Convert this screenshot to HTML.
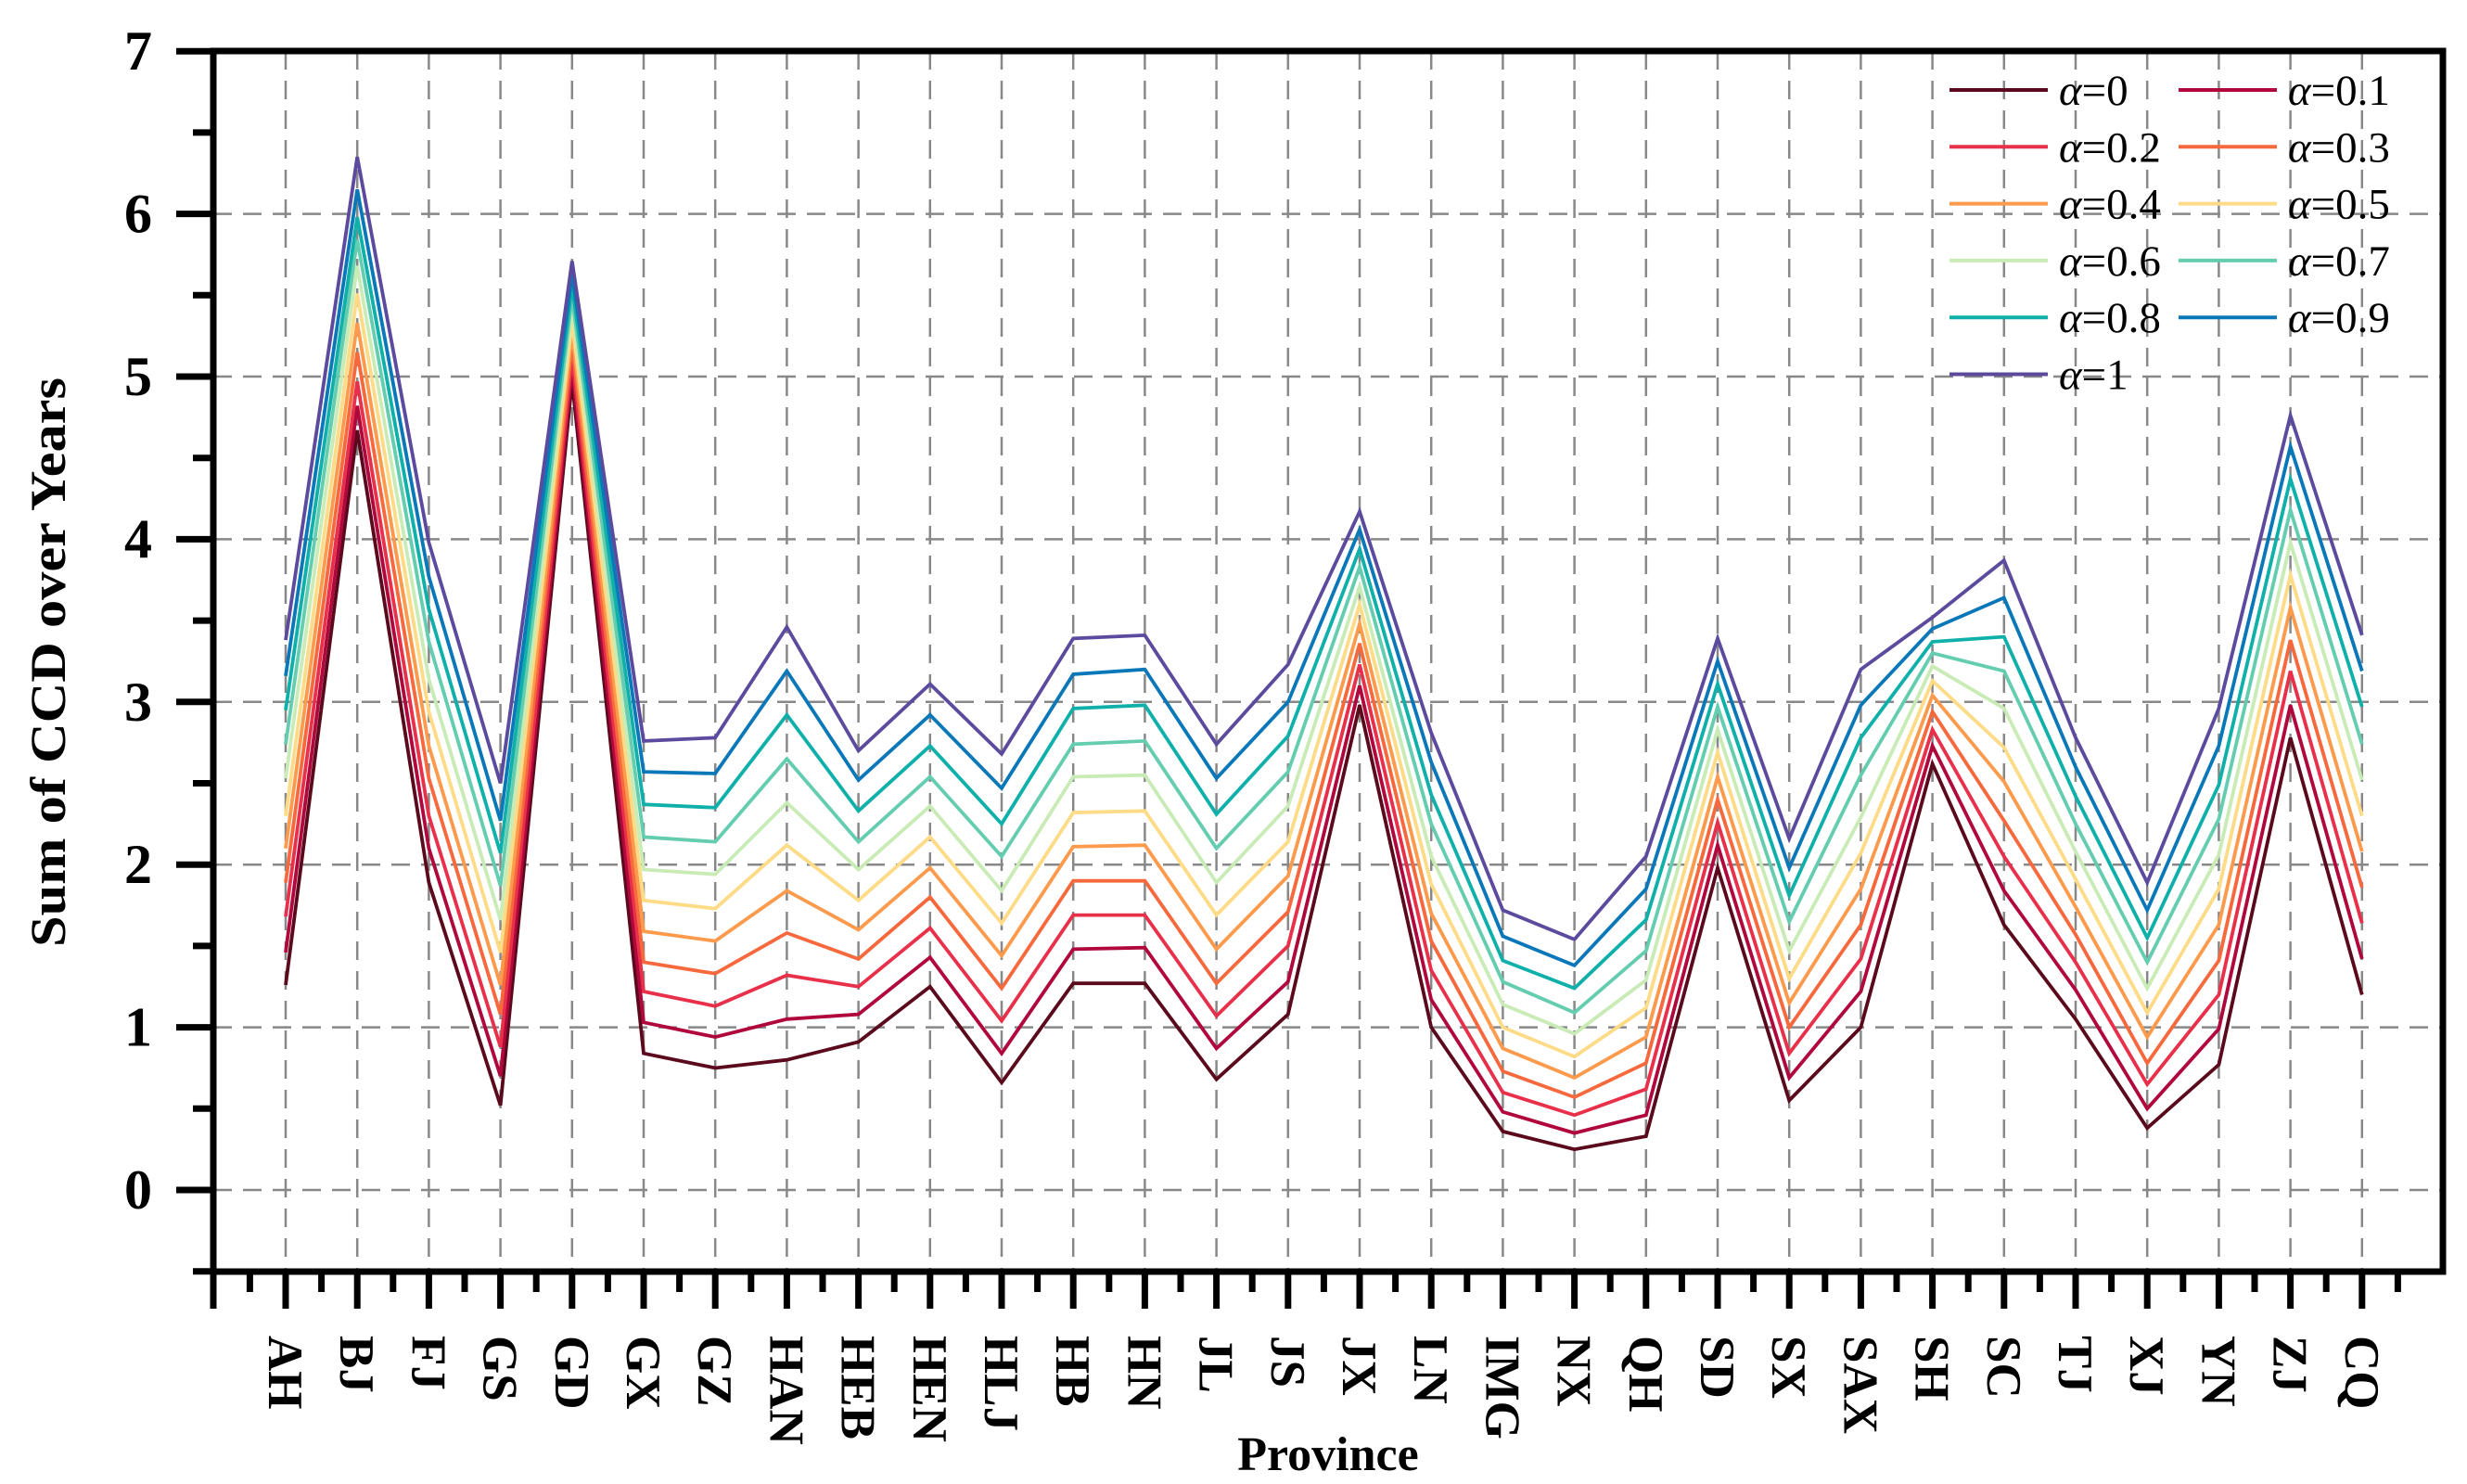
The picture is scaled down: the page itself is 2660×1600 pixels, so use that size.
<!DOCTYPE html>
<html><head><meta charset="utf-8"><style>
html,body{margin:0;padding:0;background:#fff;}
svg{display:block;font-family:"Liberation Serif",serif;}
</style></head><body>
<svg id="chart" width="2660" height="1600" viewBox="0 0 2660 1600" xmlns="http://www.w3.org/2000/svg">
<g id="grid"></g>
<g id="series"></g>
<g id="axes"></g>
<g id="legend"></g>
<text x="1432" y="1585" text-anchor="middle" font-weight="bold" font-size="52">Province</text>
<text transform="translate(70,714) rotate(-90)" text-anchor="middle" font-weight="bold" font-size="54" textLength="614" lengthAdjust="spacingAndGlyphs">Sum of CCD over Years</text>
</svg>
<script>
const categories = ["AH","BJ","FJ","GS","GD","GX","GZ","HAN","HEB","HEN","HLJ","HB","HN","JL","JS","JX","LN","IMG","NX","QH","SD","SX","SAX","SH","SC","TJ","XJ","YN","ZJ","CQ"];
const seriesLabels = ["0","0.1","0.2","0.3","0.4","0.5","0.6","0.7","0.8","0.9","1"];
const yTicks = [0,1,2,3,4,5,6,7];
const a00 = [1.26,4.67,1.89,0.52,4.97,0.84,0.75,0.80,0.91,1.25,0.66,1.27,1.27,0.68,1.08,2.98,1.00,0.36,0.25,0.33,1.98,0.55,1.00,2.62,1.63,1.05,0.38,0.77,2.78,1.20];
const a01 = [1.46,4.82,2.10,0.70,5.05,1.03,0.94,1.05,1.08,1.43,0.84,1.48,1.49,0.87,1.28,3.10,1.17,0.48,0.35,0.46,2.12,0.69,1.22,2.73,1.84,1.23,0.50,0.99,2.98,1.42];
const a02 = [1.68,4.97,2.30,0.88,5.12,1.22,1.13,1.32,1.25,1.61,1.04,1.69,1.69,1.07,1.50,3.23,1.35,0.60,0.46,0.62,2.26,0.84,1.42,2.83,2.05,1.40,0.65,1.20,3.19,1.64];
const a03 = [1.89,5.15,2.53,1.08,5.20,1.40,1.33,1.58,1.42,1.80,1.24,1.90,1.90,1.27,1.71,3.36,1.53,0.73,0.57,0.78,2.40,1.00,1.63,2.94,2.27,1.57,0.78,1.41,3.38,1.86];
const a04 = [2.10,5.33,2.73,1.26,5.27,1.59,1.53,1.84,1.60,1.98,1.44,2.11,2.12,1.48,1.93,3.48,1.70,0.87,0.69,0.94,2.54,1.15,1.85,3.04,2.51,1.74,0.94,1.63,3.58,2.08];
const a05 = [2.30,5.51,2.94,1.46,5.34,1.78,1.73,2.12,1.78,2.17,1.64,2.32,2.33,1.69,2.14,3.60,1.88,1.00,0.82,1.12,2.69,1.30,2.07,3.13,2.72,1.91,1.09,1.85,3.78,2.30];
const a06 = [2.53,5.68,3.14,1.66,5.42,1.97,1.94,2.38,1.97,2.36,1.84,2.54,2.55,1.89,2.36,3.71,2.05,1.14,0.96,1.29,2.83,1.47,2.29,3.22,2.96,2.08,1.24,2.06,3.98,2.52];
const a07 = [2.74,5.84,3.37,1.87,5.49,2.17,2.14,2.65,2.14,2.54,2.05,2.74,2.76,2.10,2.57,3.83,2.25,1.28,1.09,1.47,2.97,1.65,2.55,3.30,3.19,2.25,1.40,2.28,4.18,2.74];
const a08 = [2.95,5.98,3.57,2.07,5.56,2.37,2.35,2.92,2.33,2.73,2.25,2.96,2.98,2.31,2.79,3.94,2.43,1.41,1.24,1.66,3.11,1.81,2.78,3.37,3.40,2.42,1.55,2.49,4.37,2.97];
const a09 = [3.16,6.15,3.77,2.27,5.63,2.57,2.56,3.19,2.52,2.92,2.47,3.17,3.20,2.53,3.00,4.06,2.63,1.56,1.38,1.85,3.25,1.98,2.98,3.45,3.64,2.60,1.72,2.73,4.57,3.19];
const a10 = [3.38,6.35,3.98,2.50,5.71,2.76,2.78,3.46,2.70,3.11,2.68,3.39,3.41,2.74,3.23,4.17,2.81,1.72,1.54,2.05,3.39,2.16,3.20,3.52,3.87,2.78,1.89,2.96,4.76,3.41];
const allSeries = [a00,a01,a02,a03,a04,a05,a06,a07,a08,a09,a10];
const colors = ["#5a0a1c","#b0073c","#e8304a","#f7683c","#fd9a4c","#fedb86","#c9ebb6","#64cdb0","#0fb0aa","#0a78b8","#5b4a9e"];

const L=230,R=2634,T=55,B=1371;
const X0=308,DX=77.2;
function xs(i){return X0+i*DX;}
function ys(v){return 1283-v*175.4;}
const NS="http://www.w3.org/2000/svg";
function mk(tag,attrs,parent){const e=document.createElementNS(NS,tag);for(const k in attrs)e.setAttribute(k,attrs[k]);parent.appendChild(e);return e;}
const grid=document.getElementById('grid'),ser=document.getElementById('series'),axes=document.getElementById('axes'),leg=document.getElementById('legend');

yTicks.forEach(t=>{
  if(t===7)return;
  const g=mk('line',{x1:L,x2:R,y1:ys(t),y2:ys(t),stroke:'#888','stroke-width':2.5,'stroke-dasharray':'20 12'},grid);
  
  
});
categories.forEach((c,i)=>{
  const g=mk('line',{x1:xs(i),x2:xs(i),y1:T,y2:B,stroke:'#888','stroke-width':2.5,'stroke-dasharray':'20 12'},grid);
  
  
});

allSeries.forEach((s,k)=>{
  const pts=s.map((v,i)=>xs(i).toFixed(1)+','+ys(v).toFixed(1)).join(' ');
  const p=mk('polyline',{points:pts,fill:'none',stroke:colors[k],'stroke-width':3.8,'stroke-linejoin':'miter'},ser);
  
  
});

const fr=mk('rect',{x:L,y:T,width:R-L,height:B-T,fill:'none',stroke:'#000','stroke-width':7},axes);


for(let v=-0.5;v<=7.01;v+=0.5){
  const major=Math.abs(v-Math.round(v))<1e-6;
  const t=mk('line',{x1:L-(major?40:22),x2:L,y1:ys(v),y2:ys(v),stroke:'#000','stroke-width':7},axes);
  
  
}
yTicks.forEach(t=>{
  const tx=mk('text',{x:164,y:ys(t)+20,'text-anchor':'end','font-size':60,'font-weight':'bold'},axes);
  tx.textContent=t;
  
  
});
for(let i=-1;i<=30;i++){
  const xm=xs(i);
  if(i>=0&&i<30){
    const t=mk('line',{x1:xm,x2:xm,y1:B,y2:B+40,stroke:'#000','stroke-width':7},axes);
    
    
  }
  const xh=xm+DX/2;
  if(xh>L&&xh<R){
    const m=mk('line',{x1:xh,x2:xh,y1:B,y2:B+22,stroke:'#000','stroke-width':7},axes);
    
    
  }
}
const lt=mk('line',{x1:L,x2:L,y1:B,y2:B+40,stroke:'#000','stroke-width':7},axes);


categories.forEach((c,i)=>{
  const tx=mk('text',{transform:'translate('+(xs(i)-18)+',1440) rotate(90)','font-size':53,'font-weight':'bold'},axes);
  tx.textContent=c;
  
  
});

seriesLabels.forEach((lab,k)=>{
  const col=k%2,row=Math.floor(k/2);
  const lx=col===0?2102:2349, ly=97+row*61.3;
  const g=mk('g',{},leg);
  
  
  mk('line',{x1:lx,x2:lx+106,y1:ly,y2:ly,stroke:colors[k],'stroke-width':4},g);
  const tx=mk('text',{x:lx+118,y:ly+16,'font-size':47},g);
  const a=mk('tspan',{'font-style':'italic'},tx);a.textContent='α';
  const b=mk('tspan',{},tx);b.textContent='='+lab;
});
</script>
</body></html>
